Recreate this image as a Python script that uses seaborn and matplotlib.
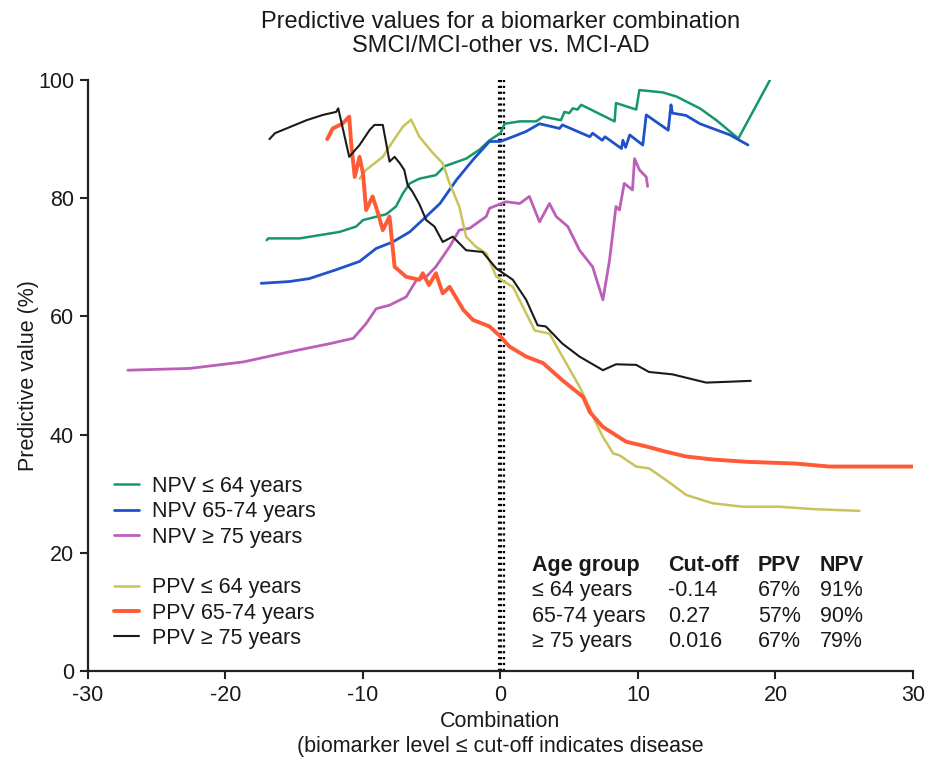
import numpy as np
import pandas as pd
import matplotlib
matplotlib.use('Agg')
import matplotlib.pyplot as plt
from matplotlib.lines import Line2D
import seaborn as sns

# NPV curves
npv_young_x = [-17.0, -16.9, -14.6, -11.7, -10.5, -10.0, -8.3, -7.6, -7.1, -6.6, -5.9, -4.7, -4.07, -2.5, -1.53,
               -0.8, 0.0, 0.3, 1.4, 2.6, 3.1, 4.4, 4.65, 5.0, 5.26, 5.6, 5.87, 8.3, 8.4, 9.87, 10.1, 11.8,
               12.8, 14.5, 15.7, 17.3, 19.6]
npv_young_y = [72.9, 73.2, 73.2, 74.3, 75.2, 76.3, 77.3, 78.6, 80.8, 82.5, 83.3, 83.9, 85.4, 86.7, 88.2,
               89.8, 91.0, 92.6, 93.0, 93.0, 93.8, 93.2, 94.6, 94.4, 95.2, 95.0, 95.8, 93.0, 96.1, 95.0, 98.3, 97.9,
               97.2, 95.2, 93.2, 90.1, 100.0]

npv_mid_x = [-17.4, -15.35, -13.9, -11.95, -10.25, -9.04, -7.83, -6.6, -5.4, -4.4, -3.2, -2.0, -0.8, 0.0, 0.9,
             1.87, 2.84, 4.3, 4.5, 6.5, 6.7, 7.4, 7.6, 8.8, 8.9, 9.1, 9.4, 10.35, 10.6, 12.2, 12.4, 12.5,
             13.5, 14.5, 16.7, 18.0]
npv_mid_y = [65.6, 65.9, 66.4, 67.9, 69.3, 71.5, 72.6, 74.3, 76.9, 79.1, 83.1, 86.5, 89.6, 89.6, 90.4,
             91.3, 92.6, 91.8, 92.4, 90.4, 91.0, 89.8, 90.4, 88.4, 89.8, 88.6, 90.7, 89.0, 94.1, 91.5, 95.8, 94.4,
             94.0, 92.6, 90.7, 89.0]

npv_old_x = [-27.1, -22.6, -18.7, -15.35, -12.4, -10.7, -9.77, -9.04, -8.07, -6.86, -6.1, -5.4, -4.7, -3.7, -3.0,
             -2.25, -1.04, -0.8, 0.4, 1.4, 2.1, 2.84, 3.56, 4.05, 4.9, 5.75, 6.7, 7.45, 7.93, 8.4, 8.65, 9.0,
             9.6, 9.75, 10.1, 10.6, 10.7]
npv_old_y = [50.9, 51.2, 52.3, 54.0, 55.4, 56.3, 58.8, 61.3, 61.9, 63.3, 66.2, 66.7, 68.4, 71.8, 74.6,
             74.9, 76.9, 78.3, 79.4, 79.1, 80.3, 76.0, 79.1, 76.9, 75.2, 71.2, 68.4, 62.8, 69.5, 78.6, 78.0, 82.5,
             81.4, 86.7, 84.8, 83.6, 82.0]

# PPV curves
ppv_young_x = [-10.25, -9.77, -8.56, -7.83, -7.1, -6.5, -5.9, -4.9, -4.2, -3.7, -3.0, -2.5, -1.8, -1.04, -0.3,
               0.9, 2.5, 3.56, 4.65, 5.75, 6.5, 6.84, 7.45, 8.2, 8.65, 9.87, 10.8, 12.05, 13.5, 15.4, 17.6,
               20.3, 22.7, 26.1]
ppv_young_y = [83.3, 84.8, 87.0, 89.6, 92.1, 93.3, 90.4, 87.6, 85.9, 82.5, 78.6, 73.5, 71.8, 70.7, 66.7,
               65.0, 57.6, 57.1, 52.6, 48.1, 44.5, 42.5, 39.6, 36.8, 36.5, 34.6, 34.3, 32.3, 29.8, 28.4, 27.8,
               27.8, 27.4, 27.1]

ppv_mid_x = [-12.6, -12.2, -11.5, -11.0, -10.86, -10.6, -10.25, -10.0, -9.77, -9.3, -8.9, -8.56, -8.07, -7.7,
             -6.86, -5.9, -5.65, -5.2, -4.7, -4.2, -3.7, -2.7, -2.0, -0.8, 0.0, 0.65, 1.87, 3.1, 4.5, 6.0, 6.5,
             7.45, 9.14, 10.6, 12.05, 13.5, 15.4, 17.9, 21.5, 23.9, 30.0]
ppv_mid_y = [90.0, 91.8, 92.6, 93.8, 89.3, 83.6, 87.0, 84.2, 78.0, 80.3, 77.4, 74.6, 76.9, 68.4,
             66.7, 66.2, 67.3, 65.3, 67.3, 63.9, 65.0, 61.1, 59.4, 58.3, 56.6, 54.9, 53.2, 52.1, 49.2, 46.4, 43.8,
             41.3, 38.8, 38.0, 37.1, 36.3, 35.8, 35.4, 35.1, 34.6, 34.6]

ppv_old_x = [-16.8, -16.4, -14.1, -12.9, -11.95, -11.8, -11.0, -10.25, -9.5, -9.16, -8.56, -8.4, -8.07, -7.7,
             -7.35, -7.0, -6.75, -6.4, -5.9, -5.4, -4.8, -4.2, -3.47, -2.5, -1.3, -0.3, 0.4, 0.9, 1.87, 2.7,
             3.3, 4.5, 5.75, 7.45, 8.4, 9.87, 10.8, 12.5, 14.96, 16.65, 18.2]
ppv_old_y = [90.0, 91.0, 93.2, 94.1, 94.6, 95.2, 87.0, 89.0, 91.6, 92.4, 92.4, 90.4, 86.2, 87.0,
             86.0, 84.8, 82.2, 81.1, 79.0, 76.3, 75.2, 72.6, 73.5, 71.2, 70.9, 68.1, 67.0, 66.2, 62.8, 58.5,
             58.3, 55.4, 53.2, 50.9, 51.9, 51.8, 50.6, 50.2, 48.8, 48.95, 49.1]

npv_labels = ['NPV \u2264 64 years', 'NPV 65-74 years', 'NPV \u2265 75 years']
ppv_labels = ['PPV \u2264 64 years', 'PPV 65-74 years', 'PPV \u2265 75 years']

# cut-off table
age_groups = ['\u2264 64 years', '65-74 years', '\u2265 75 years']
cutoffs = [-0.14, 0.27, 0.016]
cutoff_text = ['-0.14', '0.27', '0.016']
ppv_pct = ['67%', '57%', '67%']
npv_pct = ['91%', '90%', '79%']

sns.set_style('ticks')
plt.rcParams['font.family'] = ['Liberation Sans', 'DejaVu Sans']
plt.rcParams['axes.unicode_minus'] = False
plt.rcParams['text.color'] = '#1a1a1a'
plt.rcParams['axes.labelcolor'] = '#1a1a1a'
plt.rcParams['xtick.color'] = '#1a1a1a'
plt.rcParams['ytick.color'] = '#1a1a1a'

FS = 15.5

fig = plt.figure(figsize=(9.32, 7.59), dpi=100)
ax = fig.add_axes([0.0944, 0.1159, 0.8852, 0.7787])

series = [
    (npv_young_x, npv_young_y, npv_labels[0], '#16976b', 1.8),
    (npv_mid_x, npv_mid_y, npv_labels[1], '#1f52c9', 2.0),
    (npv_old_x, npv_old_y, npv_labels[2], '#bb5fb8', 2.0),
    (ppv_young_x, ppv_young_y, ppv_labels[0], '#c9c35c', 1.8),
    (ppv_mid_x, ppv_mid_y, ppv_labels[1], '#ff5a35', 2.8),
    (ppv_old_x, ppv_old_y, ppv_labels[2], '#1a1a1a', 1.5),
]

handles = []
for xs, ys, lab, col, lw in series:
    sns.lineplot(x=xs, y=ys, ax=ax, color=col, linewidth=lw, sort=False, estimator=None)
    handles.append(Line2D([0], [0], color=col, linewidth=lw, label=lab))

for c in cutoffs:
    ax.axvline(c, color='black', linestyle=':', linewidth=1.6, zorder=1)

# legend with a gap between NPV and PPV
blank = Line2D([0], [0], color='none', label=' ')
leg = ax.legend(handles=handles[:3] + [blank] + handles[3:], loc='upper left',
                bbox_to_anchor=(0.031, 0.33), frameon=False, fontsize=FS,
                handlelength=1.2, labelspacing=0.2, handletextpad=0.6, borderaxespad=0, borderpad=0)

# table text
col_x = [0.538, 0.703, 0.812, 0.887]
header = ['Age group', 'Cut-off', 'PPV', 'NPV']
row_y = [0.178, 0.136, 0.093, 0.05]
for cx, h in zip(col_x, header):
    ax.text(cx, row_y[0], h, transform=ax.transAxes, fontsize=FS, fontweight='bold', va='center')
for i in range(3):
    vals = [age_groups[i], cutoff_text[i], ppv_pct[i], npv_pct[i]]
    for cx, v in zip(col_x, vals):
        ax.text(cx, row_y[i + 1], v, transform=ax.transAxes, fontsize=FS, va='center')

ax.set_xlim(-30, 30)
ax.set_ylim(0, 100)
ax.set_xticks([-30, -20, -10, 0, 10, 20, 30])
ax.set_yticks([0, 20, 40, 60, 80, 100])
ax.tick_params(labelsize=FS, length=6, width=1.5, color='#222222', pad=4)
for s in ['left', 'bottom']:
    ax.spines[s].set_linewidth(1.6)
    ax.spines[s].set_color('#222222')
sns.despine(ax=ax)

ax.set_title('Predictive values for a biomarker combination\nSMCI/MCI-other vs. MCI-AD',
             fontsize=17, pad=20, linespacing=1.15)
ax.set_xlabel('Combination\n(biomarker level \u2264 cut-off indicates disease', fontsize=FS, labelpad=4,
              linespacing=1.2)
ax.set_ylabel('Predictive value (%)', fontsize=FS, labelpad=-1)

fig.savefig('out.png', dpi=100)
